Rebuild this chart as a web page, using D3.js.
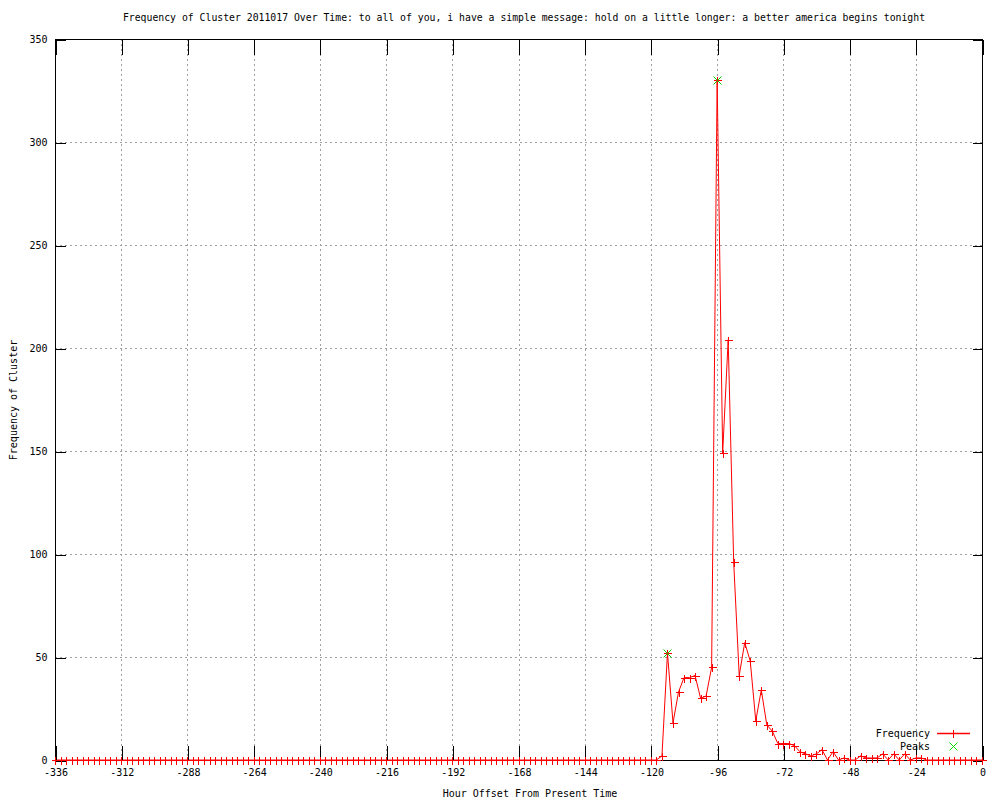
<!DOCTYPE html>
<html>
<head>
<meta charset="utf-8">
<script src="https://cdn.jsdelivr.net/npm/d3@7"></script>
<style>
  body { margin: 0; background: #fff; }
  text { font-family: "DejaVu Sans Mono", monospace; font-size: 10px; fill: #000; }
</style>
</head>
<body>
<div id="chart"></div>
<script>
// hourly offsets, one sample every 2 hours
var hours = d3.range(-336, 1, 2);

// frequency per sample
var freq = [
  0,0,0,0,0,0,0,0,0,0, 0,0,0,0,0,0,0,0,0,0,
  0,0,0,0,0,0,0,0,0,0, 0,0,0,0,0,0,0,0,0,0,
  0,0,0,0,0,0,0,0,0,0, 0,0,0,0,0,0,0,0,0,0,
  0,0,0,0,0,0,0,0,0,0, 0,0,0,0,0,0,0,0,0,0,
  0,0,0,0,0,0,0,0,0,0, 0,0,0,0,0,0,0,0,0,0,
  0,0,0,0,0,0,0,0,0,0,
  2, 52, 18, 33, 40, 40, 41, 30, 31, 45,
  330, 149, 204, 96, 41, 57, 48, 19, 34, 17,
  14, 8, 8, 8, 7, 4, 3, 2, 3, 5,
  0, 4, 0, 1, 0, 0, 2, 1, 1, 1,
  3, 0, 3, 0, 3, 0, 1, 1, 0,
  0,0,0,0,0,0,0,0,0,0
];

var peakHours = [-114, -96];
var peakValues = [52, 330];

var xTicks = d3.range(-336, 1, 24);
var yTicks = [0, 50, 100, 150, 200, 250, 300, 350];

var titleText = "Frequency of Cluster 2011017 Over Time: to all of you, i have a simple message: hold on a little longer: a better america begins tonight";
var xLabel = "Hour Offset From Present Time";
var yLabel = "Frequency of Cluster";

var svgWidth = 1000;
var svgHeight = 800;
var plot = { left: 55, right: 982, top: 39, bottom: 760 };

var svg = d3.select("#chart")
  .append("svg")
  .attr("width", svgWidth)
  .attr("height", svgHeight);

var x = d3.scaleLinear().domain([-336, 0]).range([plot.left, plot.right]);
var y = d3.scaleLinear().domain([0, 350]).range([plot.bottom, plot.top]);

// grid
var grid = svg.append("g")
  .attr("stroke", "#a0a0a0")
  .attr("stroke-dasharray", "2,3")
  .attr("shape-rendering", "crispEdges");

grid.selectAll(".gx")
  .data(xTicks)
  .enter()
  .append("line")
  .attr("x1", d => Math.round(x(d)) + 0.5)
  .attr("x2", d => Math.round(x(d)) + 0.5)
  .attr("y1", plot.top)
  .attr("y2", plot.bottom);

grid.selectAll(".gy")
  .data(yTicks)
  .enter()
  .append("line")
  .attr("y1", d => Math.round(y(d)) + 0.5)
  .attr("y2", d => Math.round(y(d)) + 0.5)
  .attr("x1", plot.left)
  .attr("x2", plot.right);

// data line
var line = d3.line()
  .x((d, i) => x(hours[i]))
  .y(d => y(d));

svg.append("path")
  .datum(freq)
  .attr("fill", "none")
  .style("stroke", "#ff0000")
  .attr("stroke-width", 1)
  .attr("d", line);

// border
svg.append("rect")
  .attr("x", plot.left + 0.5)
  .attr("y", plot.top + 0.5)
  .attr("width", plot.right - plot.left)
  .attr("height", plot.bottom - plot.top)
  .attr("fill", "none")
  .attr("stroke", "#000")
  .attr("shape-rendering", "crispEdges");

// axes with inward ticks, mirrored on top and right
var fmt = d => String(d);

svg.append("g")
  .attr("transform", `translate(0.5, ${plot.bottom + 0.5})`)
  .call(d3.axisBottom(x).tickValues(xTicks).tickFormat(fmt).tickSizeInner(-15).tickSizeOuter(0).tickPadding(8));

svg.append("g")
  .attr("transform", `translate(0.5, ${plot.top + 0.5})`)
  .call(d3.axisTop(x).tickValues(xTicks).tickFormat("").tickSizeInner(-15).tickSizeOuter(0));

svg.append("g")
  .attr("transform", `translate(${plot.left + 0.5}, 0.5)`)
  .call(d3.axisLeft(y).tickValues(yTicks).tickFormat(fmt).tickSizeInner(-10).tickSizeOuter(0).tickPadding(8));

svg.append("g")
  .attr("transform", `translate(${plot.right + 0.5}, 0.5)`)
  .call(d3.axisRight(y).tickValues(yTicks).tickFormat("").tickSizeInner(-10).tickSizeOuter(0));

svg.selectAll(".domain").remove();
svg.selectAll(".tick line").attr("stroke", "#000").attr("shape-rendering", "crispEdges");
svg.selectAll(".tick text").style("font-family", "DejaVu Sans Mono, monospace").style("font-size", "10px").attr("fill", "#000");

// markers
function plus(g, cx, cy, color) {
  g.append("path")
    .attr("d", `M${cx - 4},${cy}H${cx + 4}M${cx},${cy - 4}V${cy + 4}`)
    .attr("fill", "none")
    .style("stroke", color)
    .style("stroke-width", 1)
    .attr("shape-rendering", "crispEdges");
}
function cross(g, cx, cy, color) {
  g.append("path")
    .attr("d", `M${cx - 4},${cy - 4}L${cx + 4},${cy + 4}M${cx - 4},${cy + 4}L${cx + 4},${cy - 4}`)
    .attr("fill", "none")
    .style("stroke", color)
    .style("stroke-width", 1);
}

var marks = svg.append("g");
freq.forEach(function(v, i) {
  plus(marks, Math.round(x(hours[i])) + 0.5, Math.round(y(v)) + 0.5, "#ff0000");
});

var peaks = svg.append("g");
peakHours.forEach(function(h, i) {
  cross(peaks, Math.round(x(h)) + 0.5, Math.round(y(peakValues[i])) + 0.5, "#00cc00");
});

// legend
var legend = svg.append("g");
legend.append("text")
  .attr("x", 930).attr("y", 733).attr("dy", "0.35em")
  .attr("text-anchor", "end")
  .text("Frequency");
legend.append("path")
  .attr("d", "M937,733.5H970")
  .attr("fill", "none")
  .style("stroke", "#ff0000")
  .style("stroke-width", 1.3);
plus(legend, 953.5, 733.5, "#ff0000");
legend.append("text")
  .attr("x", 930).attr("y", 746).attr("dy", "0.35em")
  .attr("text-anchor", "end")
  .text("Peaks");
cross(legend, 953.5, 746.5, "#00dd00");

// titles
svg.append("text")
  .attr("x", 524).attr("y", 18).attr("dy", "0.35em")
  .attr("text-anchor", "middle")
  .style("font-size", "9.8px")
  .text(titleText);

svg.append("text")
  .attr("x", 530).attr("y", 793).attr("dy", "0.35em")
  .attr("text-anchor", "middle")
  .text(xLabel);

svg.append("text")
  .attr("transform", "translate(13, 400) rotate(-90)")
  .attr("dy", "0.35em")
  .attr("text-anchor", "middle")
  .text(yLabel);
</script>
</body>
</html>
